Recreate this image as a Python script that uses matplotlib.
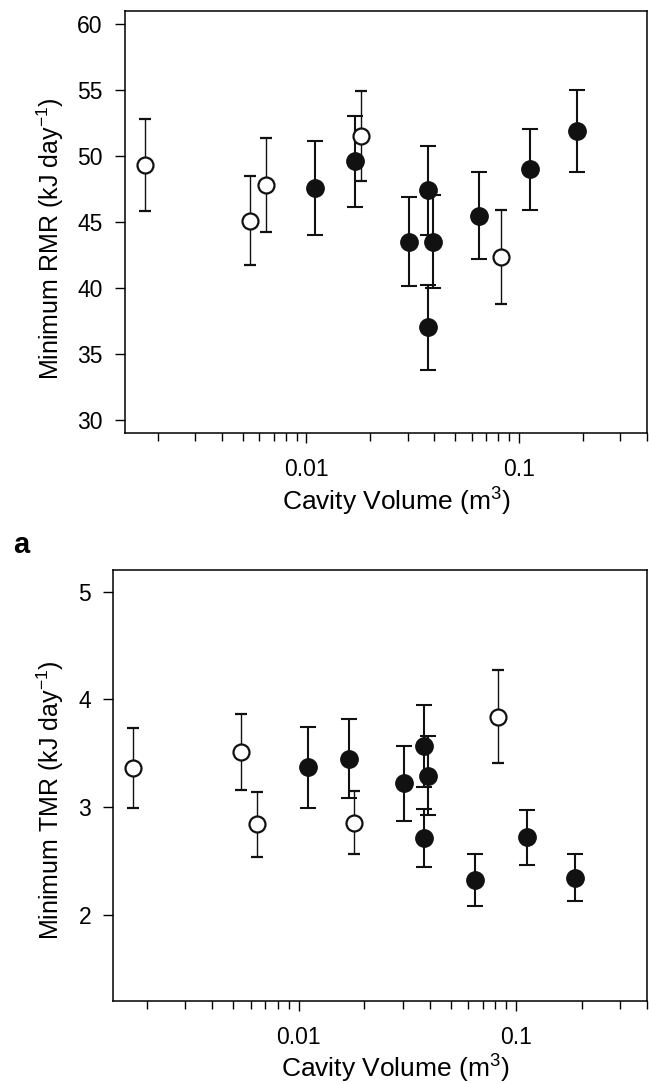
import matplotlib
matplotlib.use('Agg')
import matplotlib.pyplot as plt
from matplotlib.ticker import LogLocator, FixedLocator, FixedFormatter, NullFormatter

plt.rcParams['font.family'] = ['Liberation Sans', 'DejaVu Sans']
plt.rcParams['mathtext.default'] = 'regular'

# cavity volumes (m^3)
x_open = [0.00173, 0.0054, 0.00645, 0.0180, 0.0822]
x_filled = [0.0110, 0.0170, 0.0304, 0.0375, 0.0375, 0.0393, 0.0647, 0.1125, 0.187]

# minimum RMR (kJ day-1)
rmr_open = [49.3, 45.1, 47.8, 51.5, 42.35]
rmr_open_err = [3.5, 3.4, 3.55, 3.44, 3.57]
rmr_filled = [47.55, 49.6, 43.5, 47.4, 37.0, 43.5, 45.45, 49.0, 51.9]
rmr_filled_err = [3.55, 3.45, 3.36, 3.36, 3.2, 3.5, 3.3, 3.07, 3.1]

# minimum TMR (kJ day-1)
tmr_open = [3.36, 3.51, 2.84, 2.855, 3.84]
tmr_open_err = [0.37, 0.35, 0.30, 0.29, 0.43]
tmr_filled = [3.37, 3.45, 3.22, 3.57, 2.71, 3.29, 2.325, 2.72, 2.345]
tmr_filled_err = [0.375, 0.37, 0.345, 0.38, 0.27, 0.367, 0.243, 0.257, 0.22]

rmr_ticks = [30, 35, 40, 45, 50, 55, 60]
tmr_ticks = [2, 3, 4, 5]
x_ticks = [0.01, 0.1]
x_ticklabels = ['0.01', '0.1']

dark = '#111111'


def draw_panel(ax, yf, yf_err, yo, yo_err, ylim, yticks, ylabel, ylab_x, ylab_y, xlab_x, xlab_y):
    ax.errorbar(x_filled, yf, yerr=yf_err, fmt='o', color=dark, ms=12.5,
                mfc=dark, mec=dark, ecolor=dark, elinewidth=1.5, capsize=5.8,
                capthick=1.5, zorder=3)
    ax.errorbar(x_open, yo, yerr=yo_err, fmt='o', color=dark, ms=11.5,
                mfc='white', mec=dark, mew=1.6, ecolor=dark, elinewidth=1.0,
                capsize=4.5, capthick=1.0, zorder=4)
    ax.set_xscale('log')
    ax.set_xlim(0.0014, 0.4)
    ax.set_ylim(*ylim)
    ax.xaxis.set_major_locator(FixedLocator(x_ticks))
    ax.xaxis.set_major_formatter(FixedFormatter(x_ticklabels))
    ax.xaxis.set_minor_locator(LogLocator(base=10, subs=range(2, 10)))
    ax.xaxis.set_minor_formatter(NullFormatter())
    ax.set_yticks(yticks)
    ax.tick_params(axis='both', which='major', direction='out', length=7,
                   width=1.0, labelsize=16.5, colors='black')
    ax.tick_params(axis='x', which='major', pad=11)
    ax.tick_params(axis='y', which='major', pad=9)
    ax.tick_params(axis='x', which='minor', direction='out', length=6, width=1.0)
    ax.tick_params(top=False, right=False, which='both')
    for s in ax.spines.values():
        s.set_linewidth(1.1)
    ax.set_xlabel('Cavity Volume (m$^{3}$)', fontsize=19)
    ax.set_ylabel(ylabel, fontsize=18)
    ax.xaxis.set_label_coords(xlab_x, xlab_y)
    ax.yaxis.set_label_coords(ylab_x, ylab_y)


fig = plt.figure(figsize=(6.49, 10.84), dpi=100)
ax1 = fig.add_axes([125 / 649, 1 - 433 / 1084, 522 / 649, 422.3 / 1084])
ax2 = fig.add_axes([113.3 / 649, 1 - 1001 / 1084, 533.7 / 649, 431 / 1084])

draw_panel(ax1, rmr_filled, rmr_filled_err, rmr_open, rmr_open_err, (29, 61),
           rmr_ticks, 'Minimum RMR (kJ day$^{-1}$)', -0.113, 0.46, 0.519, -0.125)
draw_panel(ax2, tmr_filled, tmr_filled_err, tmr_open, tmr_open_err, (1.2, 5.2),
           tmr_ticks, 'Minimum TMR (kJ day$^{-1}$)', -0.088, 0.466, 0.528, -0.121)

fig.text(13 / 649, 1 - 553 / 1084, 'a', fontsize=21, fontweight='bold',
         ha='left', va='baseline')

fig.savefig('out.png', dpi=100)
